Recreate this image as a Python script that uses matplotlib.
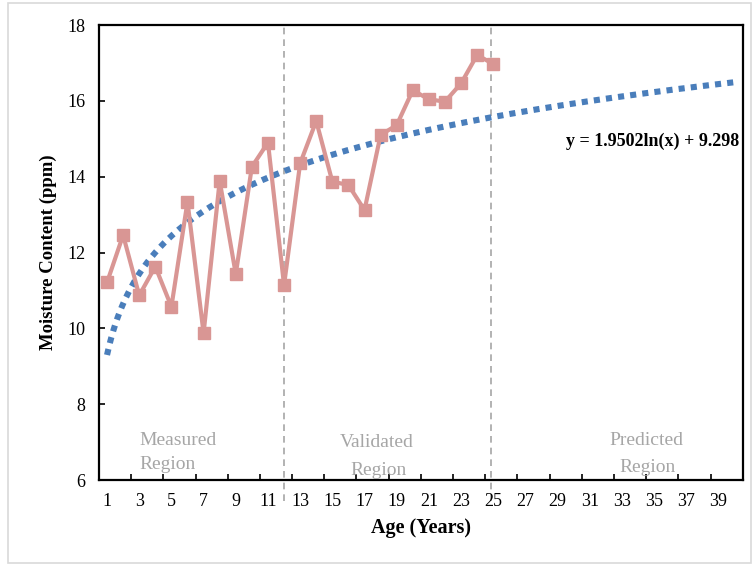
import numpy as np
import matplotlib
matplotlib.use("Agg")
import matplotlib.pyplot as plt
from matplotlib.patches import Rectangle

# measured moisture content per year of age
age = list(range(1, 26))
moisture = [11.21, 12.46, 10.87, 11.63, 10.57, 13.34, 9.87, 13.89, 11.43, 14.26,
            14.90, 11.14, 14.35, 15.47, 13.87, 13.78, 13.12, 15.10, 15.36, 16.28,
            16.04, 15.98, 16.46, 17.21, 16.97]

# logarithmic fit, extended to the forecast horizon
fit_a = 1.9502
fit_b = 9.298
fit_end = 40
region_bounds = [12, 24.85]
xtick_labels = [str(v) for v in range(1, 40, 2)]

plt.rcParams['font.family'] = ['Liberation Serif', 'DejaVu Serif']

fig = plt.figure(figsize=(7.55, 5.66), dpi=100)
ax = fig.add_axes([0.1311, 0.1519, 0.8526, 0.8039])

# frame around the whole chart
fig.patches.append(Rectangle((8 / 755, 3 / 566), 743 / 755, 560 / 566,
                             transform=fig.transFigure, fill=False,
                             edgecolor='#d9d9d9', linewidth=1.2))

xfit = np.linspace(1, fit_end, 300)
yfit = fit_a * np.log(xfit) + fit_b
ax.plot(xfit, yfit, color='#4a7ebb', linewidth=4.4,
        linestyle=(0, (1.0, 1.0)), dash_capstyle='butt', zorder=2)

ax.plot(age, moisture, color='#d99694', linewidth=3.0, marker='s',
        markersize=8, markerfacecolor='#d99694', markeredgecolor='#d99694',
        zorder=3)

for xb in region_bounds:
    ax.plot([xb, xb], [5.45, 18], color='#a6a6a6', linewidth=1.2,
            linestyle=(0, (4, 3)), clip_on=False, zorder=1)

# region captions, each line placed on its own
captions = [("Measured", 5.41, 7.03), ("Region", 4.73, 6.40),
            ("Validated", 17.73, 6.98), ("Region", 17.85, 6.26),
            ("Predicted", 34.5, 7.05), ("Region", 34.6, 6.34)]
for txt, cx, cy in captions:
    ax.text(cx, cy, txt, color='#a6a6a6', fontsize=14, ha='center', va='center')

ax.text(40.3, 14.94, "y = 1.9502ln(x) + 9.298", fontsize=13, fontweight='bold',
        ha='right', va='center')

ax.set_xlim(0.5, 40.5)
ax.set_ylim(6, 18)
ax.set_xticks(np.arange(1, 40, 2))
ax.set_xticklabels(xtick_labels)
ax.set_xticks(np.arange(2.5, 40, 2), minor=True)
ax.set_yticks(np.arange(6, 19, 2))
ax.tick_params(axis='x', which='major', length=0, pad=9, labelsize=13)
ax.tick_params(axis='x', which='minor', direction='in', length=4, width=1.2)
ax.tick_params(axis='y', direction='in', length=4, width=1.2, pad=10, labelsize=13)

for s in ax.spines.values():
    s.set_linewidth(1.6)
    s.set_color('black')

ax.set_xlabel("Age (Years)", fontsize=14.5, fontweight='bold', labelpad=6)
ax.set_ylabel("Moisture Content (ppm)", fontsize=13.5, fontweight='bold', labelpad=7)

fig.savefig("out.png", dpi=100)
